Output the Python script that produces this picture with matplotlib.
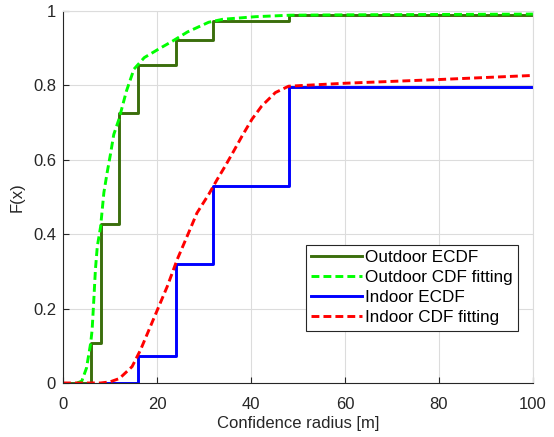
import matplotlib
matplotlib.use('Agg')
import matplotlib.pyplot as plt
from matplotlib.ticker import FuncFormatter

plt.rcParams['font.family'] = ['Liberation Sans', 'DejaVu Sans']

# empirical CDFs (step values)
out_x = [0, 6, 8, 12, 16, 24, 32, 48, 100]
out_F = [0, 0.107, 0.427, 0.726, 0.856, 0.921, 0.973, 0.989, 0.989]
in_x = [8, 16, 24, 32, 48, 100]
in_F = [0, 0.073, 0.321, 0.531, 0.796, 0.796]

# fitted CDF curves
out_fit_x = [3, 4, 5, 5.9, 6.2, 6.6, 6.9, 7.3, 8.0, 8.7, 9.4, 10.1, 10.8, 11.9,
             13.5, 15.1, 17.3, 20.5, 23.4, 26.5, 31, 34, 41, 48.4, 60, 80, 100]
out_fit_F = [0, 0.005, 0.04, 0.108, 0.143, 0.233, 0.305, 0.367, 0.42, 0.512, 0.566,
             0.615, 0.668, 0.709, 0.785, 0.844, 0.875, 0.899, 0.92, 0.944, 0.97,
             0.978, 0.985, 0.989, 0.99, 0.991, 0.992]
in_fit_x = [0, 8, 10, 12, 14.7, 16.5, 18.6, 20.4, 22.2, 24.3, 26.7, 28.5, 31, 32.8,
            34.5, 36.3, 38.1, 40.2, 42.3, 45.2, 48, 60, 80, 100]
in_fit_F = [0, 0, 0.003, 0.012, 0.044, 0.089, 0.152, 0.206, 0.26, 0.332, 0.403,
            0.457, 0.507, 0.547, 0.583, 0.623, 0.664, 0.709, 0.745, 0.781, 0.798,
            0.806, 0.816, 0.827]

fig = plt.figure(figsize=(5.54, 4.37), dpi=100)
ax = fig.add_axes([0.1137, 0.1236, 0.8483, 0.851])

lw = 2.1
dash = (0, (2.7, 1.4))
ax.step(out_x, out_F, where='post', color='#3b6e0c', lw=lw, label='Outdoor ECDF')
ax.plot(out_fit_x, out_fit_F, color='#00ff00', lw=lw, linestyle=dash, label='Outdoor CDF fitting')
ax.step(in_x, in_F, where='post', color='#0000ff', lw=lw, label='Indoor ECDF')
ax.plot(in_fit_x, in_fit_F, color='#ff0000', lw=lw, linestyle=dash, label='Indoor CDF fitting')

ax.set_xlim(0, 100)
ax.set_ylim(0, 1)
ax.set_xticks([0, 20, 40, 60, 80, 100])
ax.set_yticks([0, 0.2, 0.4, 0.6, 0.8, 1])
ax.yaxis.set_major_formatter(FuncFormatter(lambda v, p: '%g' % v))
ax.grid(True, color='#dcdcdc', lw=0.8)
ax.set_axisbelow(True)
ax.tick_params(direction='in', length=4, labelsize=12, colors='#262626', pad=5)
ax.tick_params(axis='x', pad=10)
for s in ['left', 'bottom']:
    ax.spines[s].set_color('#262626')
for s in ['top', 'right']:
    ax.spines[s].set_color('#dcdcdc')

ax.set_xlabel('Confidence radius [m]', fontsize=12, color='#262626', labelpad=3)
ax.set_ylabel('F(x)', fontsize=12, color='#262626', labelpad=6)

leg = ax.legend(loc='lower left', bbox_to_anchor=(0.517, 0.141), fontsize=12.3,
                handlelength=3, labelspacing=0.3, borderpad=0.3, handletextpad=0.15,
                fancybox=False, framealpha=1, borderaxespad=0)
leg.get_frame().set_edgecolor('#262626')
leg.get_frame().set_linewidth(0.8)

fig.savefig('out.png', dpi=100)
